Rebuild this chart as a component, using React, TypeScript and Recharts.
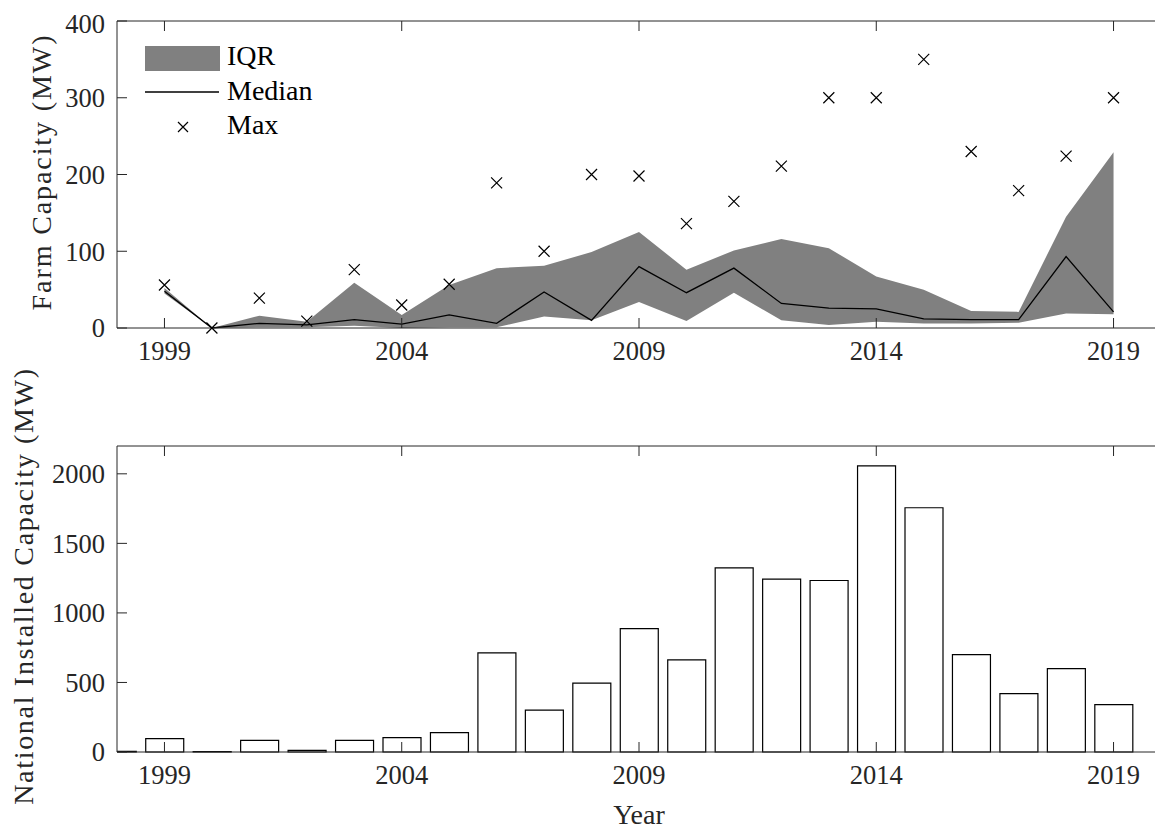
import React from "react";
import {
  Area,
  Bar,
  ComposedChart,
  Legend,
  Line,
  Scatter,
  XAxis,
  YAxis
} from "recharts";

// top panel: per-year farm capacity stats (MW)
const years = [1999, 2000, 2001, 2002, 2003, 2004, 2005, 2006, 2007, 2008, 2009, 2010, 2011, 2012, 2013, 2014, 2015, 2016, 2017, 2018, 2019];
const q1 = [45, 0, 1, 1, 3, 0, 1, 1, 15, 10, 34, 9, 46, 10, 4, 8, 6, 6, 7, 19, 18];
const median = [48, 0, 6, 4, 11, 5, 17, 6, 47, 10, 80, 46, 78, 32, 26, 25, 12, 11, 11, 93, 21];
const q3 = [52, 0, 16, 8, 59, 17, 56, 78, 81, 99, 125, 76, 101, 116, 104, 67, 50, 22, 21, 145, 229];
const maxCap = [56, 0, 39, 9, 76, 30, 57, 189, 100, 200, 198, 136, 165, 211, 300, 300, 350, 230, 179, 224, 300];

// bottom panel: national installed capacity (MW)
const barYears = [1998, 1999, 2000, 2001, 2002, 2003, 2004, 2005, 2006, 2007, 2008, 2009, 2010, 2011, 2012, 2013, 2014, 2015, 2016, 2017, 2018, 2019];
const installed = [4, 96, 3, 84, 12, 84, 103, 139, 712, 301, 495, 887, 662, 1324, 1243, 1233, 2057, 1756, 700, 419, 600, 340];

const yearTicks = [1999, 2004, 2009, 2014, 2019];
const farmTicks = [0, 100, 200, 300, 400];
const nationalTicks = [0, 500, 1000, 1500, 2000];

const FONT = "'Liberation Serif', 'DejaVu Serif', 'Noto Serif', 'Nimbus Roman', FreeSerif, Times, serif";
const AXIS = "#262626";

const farmData = years.map((year, i) => ({
  year,
  iqr: [q1[i], q3[i]],
  median: median[i],
  max: maxCap[i]
}));

const nationalData = barYears.map((year, i) => ({ year, installed: installed[i] }));

const tickStyle = { fontSize: 26.5, fill: AXIS, style: { fontFamily: FONT } };

function Cross({ cx, cy, r = 5.5 }: { cx?: number; cy?: number; r?: number }) {
  if (cx == null || cy == null) return null;
  return (
    <path
      d={`M${cx - r},${cy - r}L${cx + r},${cy + r}M${cx - r},${cy + r}L${cx + r},${cy - r}`}
      stroke="#000"
      strokeWidth={1.2}
      fill="none"
    />
  );
}

function sideLabel(text: string, cx: number, dy: number, spacing: number) {
  return (props: any) => {
    const vb = props.viewBox || {};
    const cy = vb.y + vb.height / 2 + dy;
    return (
      <text
        x={cx}
        y={cy}
        transform={`rotate(-90 ${cx} ${cy})`}
        textAnchor="middle"
        dominantBaseline="central"
        style={{ fontFamily: FONT, fontSize: 28, letterSpacing: spacing }}
        fill={AXIS}
      >
        {text}
      </text>
    );
  };
}

function FarmLegend() {
  const txt = { fill: "#000", style: { fontFamily: FONT, fontSize: 28 } };
  return (
    <svg width={220} height={105} style={{ display: "block" }}>
      <rect x={0} y={8} width={75} height={25} fill="#808080" />
      <text x={82} y={27} {...txt}>IQR</text>
      <line x1={0} x2={74} y1={54} y2={54} stroke="#000" strokeWidth={1.3} />
      <text x={82} y={62} {...txt}>Median</text>
      <Cross cx={38} cy={89} r={5} />
      <text x={82} y={96} {...txt}>Max</text>
    </svg>
  );
}

export default function App() {
  return (
    <div style={{ width: 1155, fontFamily: FONT }}>
      <ComposedChart width={1155} height={360} data={farmData} margin={{ top: 12, right: 1, bottom: 0, left: 0 }}>
        <XAxis
          dataKey="year"
          type="number"
          domain={[1998, 2020]}
          ticks={yearTicks}
          allowDataOverflow
          height={40}
          tickSize={-10}
          tickMargin={23}
          stroke={AXIS}
          tick={tickStyle}
        />
        <XAxis
          xAxisId="top"
          orientation="top"
          dataKey="year"
          type="number"
          domain={[1998, 2020]}
          ticks={yearTicks}
          height={1}
          tickSize={-10}
          stroke={AXIS}
          tick={() => <g />}
        />
        <YAxis
          domain={[0, 400]}
          ticks={farmTicks}
          width={109}
          tickSize={-10}
          tickMargin={22}
          stroke={AXIS}
          tick={tickStyle}
          label={sideLabel("Farm Capacity (MW)", 33, -2.5, 1.9)}
        />
        <YAxis
          yAxisId="r"
          orientation="right"
          domain={[0, 400]}
          ticks={farmTicks}
          width={1}
          tickSize={-10}
          stroke={AXIS}
          tick={() => <g />}
        />
        <Legend
          layout="vertical"
          align="center"
          verticalAlign="middle"
          wrapperStyle={{ left: 137, top: 30, width: 220, height: 105 }}
          content={() => <FarmLegend />}
        />
        <Area
          dataKey="iqr"
          type="linear"
          fill="#808080"
          fillOpacity={1}
          stroke="none"
          isAnimationActive={false}
        />
        <Line
          dataKey="median"
          type="linear"
          stroke="#000"
          strokeWidth={1.3}
          dot={false}
          isAnimationActive={false}
        />
        <Scatter dataKey="max" shape={(p: any) => <Cross cx={p.cx} cy={p.cy} />} isAnimationActive={false} />
      </ComposedChart>

      <ComposedChart width={1155} height={464} data={nationalData} margin={{ top: 77, right: 1, bottom: 5, left: 0 }}>
        <XAxis
          dataKey="year"
          type="number"
          domain={[1998, 2020]}
          ticks={yearTicks}
          allowDataOverflow
          height={75}
          tickSize={-10}
          tickMargin={23}
          stroke={AXIS}
          tick={tickStyle}
          label={{ value: "Year", position: "insideBottom", offset: 3, style: { fontFamily: FONT, fontSize: 28, fill: AXIS } }}
        />
        <XAxis
          xAxisId="top"
          orientation="top"
          dataKey="year"
          type="number"
          domain={[1998, 2020]}
          ticks={yearTicks}
          height={1}
          tickSize={-10}
          stroke={AXIS}
          tick={() => <g />}
        />
        <YAxis
          domain={[0, 2200]}
          ticks={nationalTicks}
          width={109}
          tickSize={-10}
          tickMargin={22}
          stroke={AXIS}
          tick={tickStyle}
          label={sideLabel("National Installed Capacity (MW)", 15, -13, 1.7)}
        />
        <YAxis
          yAxisId="r"
          orientation="right"
          domain={[0, 2200]}
          ticks={nationalTicks}
          width={1}
          tickSize={-10}
          stroke={AXIS}
          tick={() => <g />}
        />
        <Bar
          dataKey="installed"
          barSize={38}
          fill="#fff"
          stroke="#000"
          strokeWidth={1.2}
          isAnimationActive={false}
        />
      </ComposedChart>
    </div>
  );
}
